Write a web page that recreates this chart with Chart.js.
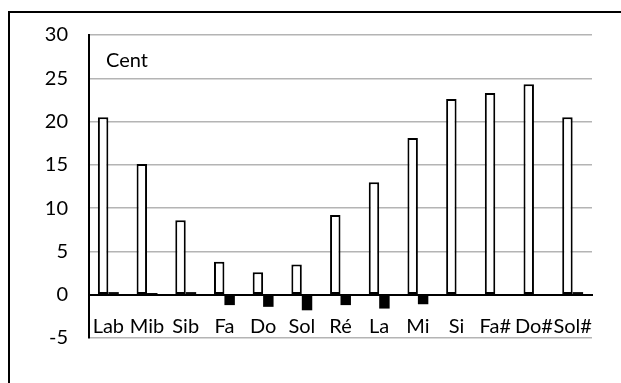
<!DOCTYPE html>
<html>
<head>
<meta charset="utf-8">
<script src="https://cdn.jsdelivr.net/npm/chart.js@4.4.0/dist/chart.umd.min.js"></script>
<style>
  html, body { margin: 0; padding: 0; background: #ffffff; }
  #wrap { position: relative; width: 621px; height: 383px; }
</style>
</head>
<body>
<div id="wrap"><canvas id="myChart" width="621" height="383"></canvas></div>
<script>
var notes = ['Lab', 'Mib', 'Sib', 'Fa', 'Do', 'Sol', 'Ré', 'La', 'Mi', 'Si', 'Fa#', 'Do#', 'Sol#'];
var centsA = [20.5, 15.1, 8.6, 3.8, 2.6, 3.5, 9.2, 13.0, 18.1, 22.6, 23.3, 24.3, 20.5];
var centsB = [0.3, 0.2, 0.3, -1.2, -1.4, -1.8, -1.2, -1.6, -1.1, 0, 0, 0, 0.3];
var yTicks = [-5, 0, 5, 10, 15, 20, 25, 30];

var fontFamily = 'Lato, "Open Sans", sans-serif';

// Draws the "Cent" unit label and the frame lines
var decorations = {
    id: 'decorations',
    afterDraw: function (chart) {
        var ctx = chart.ctx;
        ctx.save();
        ctx.fillStyle = '#000000';
        ctx.font = '20px ' + fontFamily;
        ctx.textBaseline = 'middle';
        ctx.textAlign = 'left';
        ctx.fillText('Cent', 106, 61);
        ctx.fillRect(8, 11, 2, 383);
        ctx.fillRect(8, 11, 613, 2);
        ctx.restore();
    }
};

var chart = new Chart(document.getElementById('myChart'), {
    type: 'bar',
    data: {
        labels: notes,
        datasets: [
            {
                label: 'A',
                data: centsA,
                backgroundColor: '#ffffff',
                borderColor: '#000000',
                borderWidth: 2,
                borderSkipped: false,
                categoryPercentage: 0.54,
                barPercentage: 1.0
            },
            {
                label: 'B',
                data: centsB,
                backgroundColor: '#000000',
                borderColor: '#000000',
                borderWidth: 0,
                categoryPercentage: 0.54,
                barPercentage: 1.0
            }
        ]
    },
    options: {
        responsive: false,
        animation: false,
        layout: {
            padding: { left: 0, top: 35, right: 29, bottom: 45 }
        },
        plugins: {
            legend: { display: false },
            tooltip: { enabled: false }
        },
        scales: {
            x: {
                position: { y: 0 },
                grid: { display: false, drawTicks: false },
                border: { display: true, color: '#000000', width: 2 },
                ticks: {
                    color: '#000000',
                    padding: 20,
                    maxRotation: 0,
                    autoSkip: false,
                    font: { family: fontFamily, size: 20 }
                }
            },
            y: {
                min: -5,
                max: 30,
                afterFit: function (scale) { scale.width = 89; },
                afterBuildTicks: function (scale) {
                    scale.ticks = yTicks.map(function (v) { return { value: v }; });
                },
                grid: { color: '#b4b4b4', lineWidth: 1.5, drawTicks: false },
                border: { display: true, color: '#000000', width: 2 },
                ticks: {
                    color: '#000000',
                    padding: 21,
                    font: { family: fontFamily, size: 20 }
                }
            }
        }
    },
    plugins: [decorations]
});
</script>
</body>
</html>
